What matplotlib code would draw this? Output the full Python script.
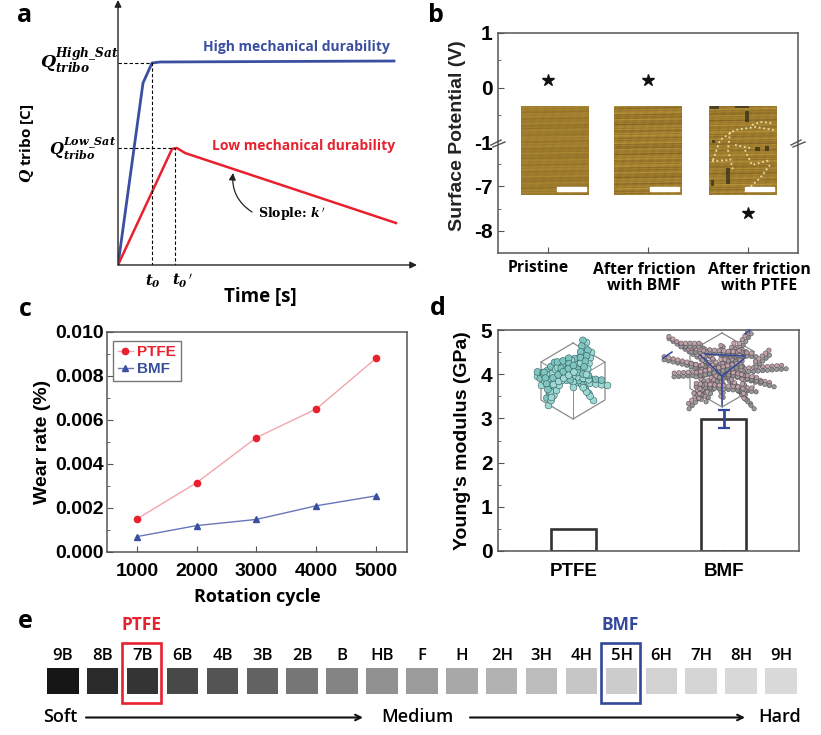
import numpy as np
import matplotlib
matplotlib.use('Agg')
import matplotlib.pyplot as plt
from matplotlib.patches import Rectangle

plt.rcParams['font.family'] = ['Liberation Sans', 'DejaVu Sans']
plt.rcParams['mathtext.fontset'] = 'dejavuserif'

W, H = 821, 735
RED = '#e8212e'
BLUE = '#3b4fa0'
NAVY = '#33479b'
FRAME = '#555555'

# panel a
high_t = [0, 25, 34, 42, 276]
high_q = [0, 182, 202, 203, 204]
low_t = [0, 54, 59, 67, 278]
low_q = [0, 116, 117, 112, 42]
t0_high = 34
t0_low = 57

# panel b
surface_labels = ['Pristine', 'After friction\nwith BMF', 'After friction\nwith PTFE']
surface_x = [1, 2, 3]
surface_v = [0.13, 0.13, -7.61]

# panel c
cycles = [1000, 2000, 3000, 4000, 5000]
wear_ptfe = [0.0015, 0.00315, 0.0052, 0.0065, 0.0088]
wear_bmf = [0.0007, 0.0012, 0.00148, 0.0021, 0.00255]

# panel d
modulus_names = ['PTFE', 'BMF']
modulus = [0.5, 2.98]
modulus_err = [0, 0.2]

# panel e
pencil = ['9B', '8B', '7B', '6B', '4B', '3B', '2B', 'B', 'HB', 'F', 'H',
          '2H', '3H', '4H', '5H', '6H', '7H', '8H', '9H']
pencil_grey = [22, 42, 52, 72, 84, 98, 118, 132, 145, 155, 168,
               178, 188, 198, 204, 210, 213, 216, 218]


def px_axes(left, top, right, bottom, **kw):
    return fig.add_axes([left / W, 1 - bottom / H, (right - left) / W, (bottom - top) / H], **kw)


def style_frame(ax):
    for s in ax.spines.values():
        s.set_color(FRAME)
        s.set_linewidth(1.1)
    ax.tick_params(which='major', direction='in', length=4, color=FRAME, labelsize=14, pad=4)
    ax.tick_params(which='minor', direction='in', length=2, color=FRAME)
    for t in ax.get_xticklabels() + ax.get_yticklabels():
        t.set_fontweight('bold')


fig = plt.figure(figsize=(W / 100, H / 100), dpi=100)

# a: sketch of charge against time
ax = px_axes(118, 2, 415, 265)
ax.set_xlim(0, 297)
ax.set_ylim(0, 263)
ax.axis('off')
ax.plot(high_t, high_q, color=BLUE, lw=2)
ax.plot(low_t, low_q, color=RED, lw=1.8)
ax.plot([0, t0_high, t0_high], [high_q[2], high_q[2], 0], color='k', lw=0.8, ls=(0, (3, 2)))
ax.plot([0, t0_low, t0_low], [low_q[2], low_q[2], 0], color='k', lw=0.8, ls=(0, (3, 2)))
ax.annotate('', xy=(0, 265), xytext=(0, 0), annotation_clip=False,
            arrowprops=dict(arrowstyle='-|>', color='#222222', lw=1, shrinkA=0, shrinkB=0))
ax.annotate('', xy=(299, 0), xytext=(0, 0), annotation_clip=False,
            arrowprops=dict(arrowstyle='-|>', color='#222222', lw=1, shrinkA=0, shrinkB=0))

# b: broken axis surface potential
ax_top = px_axes(498, 33, 798, 142)
ax_low = px_axes(498, 142, 798, 253)
ax_top.set_ylim(-1, 1)
ax_low.set_ylim(-8.5, -6)
for a in (ax_top, ax_low):
    a.set_xlim(0.5, 3.5)
    a.plot(surface_x, surface_v, '*', color='#111111', ms=9, clip_on=True)
ax_top.set_yticks([-1, 0, 1])
ax_top.set_yticks([-0.5, 0.5], minor=True)
ax_low.set_yticks([-8, -7])
ax_low.set_yticks([-7.5, -6.5], minor=True)
ax_top.set_xticks([])
ax_low.set_xticks(surface_x)
ax_low.set_xticklabels(['', '', ''])
style_frame(ax_top)
style_frame(ax_low)
ax_top.spines['bottom'].set_visible(False)
ax_low.spines['top'].set_visible(False)
ax_top.set_yticklabels(['-1', '0', '1'], fontweight='bold', fontsize=15)
ax_low.set_yticklabels(['-8', '-7'], fontweight='bold', fontsize=15)

# c: wear rate
ax = px_axes(107, 332, 407, 552)
ax.plot(cycles, wear_ptfe, '-o', color='#f2a6ac', lw=1, mfc=RED, mec=RED, ms=4.5, label='PTFE')
ax.plot(cycles, wear_bmf, '-^', color='#6a76b8', lw=1, mfc=BLUE, mec=BLUE, ms=4.5, label='BMF')
ax.set_xlim(500, 5520)
ax.set_ylim(0, 0.010)
ax.set_xticks(cycles)
ax.set_yticks([0, 0.002, 0.004, 0.006, 0.008, 0.010])
ax.set_yticklabels(['0.000', '0.002', '0.004', '0.006', '0.008', '0.010'])
ax.set_yticks(np.arange(0.001, 0.01, 0.002), minor=True)
style_frame(ax)
ax.tick_params(axis='x', pad=8)
ax.tick_params(axis='y', pad=2)
ax.set_ylabel('Wear rate (%)', fontsize=14, fontweight='bold', labelpad=3)
ax.set_xlabel('Rotation cycle', fontsize=13, fontweight='bold', family='Open Sans', labelpad=6)
leg = ax.legend(loc='upper left', bbox_to_anchor=(0.02, 0.96), borderaxespad=0,
                prop={'weight': 'bold', 'size': 11}, labelcolor=[RED, BLUE], fancybox=False,
                edgecolor='#777777', framealpha=1, handlelength=1.0, handletextpad=0.3,
                borderpad=0.3, labelspacing=0.2)
leg.get_frame().set_linewidth(1)

# d: modulus bars
ax = px_axes(498, 330, 799, 551)
ax.bar([0, 1], modulus, width=0.3, facecolor='white', edgecolor='#333333', lw=1.9, zorder=2)
ax.errorbar([1], [modulus[1]], yerr=[modulus_err[1]], color=NAVY, capsize=4, lw=2, capthick=1.6, zorder=3)
ax.set_xlim(-0.5, 1.5)
ax.set_ylim(0, 5)
ax.set_xticks([0, 1])
ax.set_xticklabels(modulus_names)
ax.set_yticks(range(6))
ax.set_yticks(np.arange(0.5, 5, 1), minor=True)
style_frame(ax)
ax.tick_params(axis='x', pad=9, labelsize=13.5)
for t in ax.get_yticklabels():
    t.set_fontsize(15)
ax.set_ylabel("Young's modulus (GPa)", fontsize=14, fontweight='bold', labelpad=7)

# overlay in picture pixels for labels, micrographs, molecules and the pencil scale
ov = fig.add_axes([0, 0, 1, 1], zorder=10)
ov.set_xlim(0, W)
ov.set_ylim(H, 0)
ov.axis('off')
ov.patch.set_alpha(0)

OPEN = ['Open Sans', 'DejaVu Sans']
for s, x, y in [('a', 25, 15), ('b', 436, 15), ('c', 25, 309), ('d', 438, 308), ('e', 25, 621)]:
    ov.text(x, y, s, fontsize=18, fontweight='bold', family=OPEN, ha='center', va='center')

# a labels
ov.text(296, 47, 'High mechanical durability', color=BLUE, fontsize=10, fontweight='bold', family=OPEN, ha='center', va='center')
ov.text(304, 146, 'Low mechanical durability', color=RED, fontsize=10, fontweight='bold', family=OPEN, ha='center', va='center')
ov.text(79, 61, r'$\mathbfit{Q}_{\mathbfit{tribo}}^{\mathbfit{High\_Sat}}$', fontsize=12.5, ha='center', va='center')
ov.text(83, 149, r'$\mathbfit{Q}_{\mathbfit{tribo}}^{\mathbfit{Low\_Sat}}$', fontsize=11.5, ha='center', va='center')
ov.text(153, 281, r'$\mathbfit{t}_{\mathbfit{0}}$', fontsize=10.5, ha='center', va='center')
ov.text(183, 281, r"$\mathbfit{t}_{\mathbfit{0}}\,'$", fontsize=10.5, ha='center', va='center')
ov.text(260, 297, 'Time [s]', fontsize=13.5, fontweight='bold', family=OPEN, ha='center', va='center')
ov.text(27, 143, r'$\mathbfit{Q}$ tribo [C]', fontsize=11, fontweight='bold', family=OPEN, rotation=90, ha='center', va='center')
ov.text(292, 214, r"Slople: $\mathbfit{k}\,'$", fontsize=9, fontweight='bold', family='DejaVu Serif', ha='center', va='center')
ov.annotate('', xy=(233, 173), xytext=(252, 212),
            arrowprops=dict(arrowstyle='-|>', color='#222222', lw=0.9, connectionstyle='arc3,rad=-0.3', shrinkA=0, shrinkB=0))

# b labels
ov.text(457, 136, 'Surface Potential (V)', fontsize=14, fontweight='bold', rotation=90, ha='center', va='center', color='#222222')
for name, x, y in zip(surface_labels, [538, 644, 759], [268, 278, 278]):
    ov.text(x, y, name, fontsize=11.3, fontweight='bold', family=OPEN, ha='center', va='center', linespacing=1.05)
for x in (498, 798):
    ov.plot([x - 7, x + 3], [145, 140], color=FRAME, lw=1)
    ov.plot([x - 5, x + 7], [147, 142], color=FRAME, lw=1)

# micrographs: gold scratched surface, drawn as texture
yy, xx = np.mgrid[0:89, 0:68]
for left, phase, amp in [(521, 0.0, 0.6), (614, 1.3, 1.0), (709, 2.6, 0.9)]:
    tex = (np.sin(yy * 1.9 + xx * 0.03 + phase) * 0.3 + np.sin(yy * 0.83 + xx * 0.018 + phase * 2) * 0.3
           + np.sin(yy * 3.1 - xx * 0.05) * 0.2 + np.sin(xx * 0.7 + yy * 0.2) * 0.1 + np.sin(yy * 0.23 + phase) * 0.1)
    img = np.zeros(tex.shape + (3,))
    img[..., 0] = (158 + 30 * amp * tex) / 255
    img[..., 1] = (124 + 28 * amp * tex) / 255
    img[..., 2] = (46 + 14 * amp * tex) / 255
    ov.imshow(np.clip(img, 0, 1), extent=(left, left + 68, 195, 106), aspect='auto', interpolation='bilinear', zorder=2)
    ov.add_patch(Rectangle((left + 36, 187), 29, 4, color='white', zorder=4))
ov.set_xlim(0, W)
ov.set_ylim(H, 0)

# worn patches on the third micrograph
for x, y, w, h in [(745, 111, 4, 11), (726, 168, 4, 16), (755, 147, 5, 4), (765, 146, 4, 5), (710, 106, 9, 3),
                   (735, 106, 14, 2), (712, 140, 3, 3), (711, 180, 3, 6)]:
    ov.add_patch(Rectangle((x, y), w, h, color='#3a3418', alpha=0.8, zorder=3, lw=0))
dash_paths = [[(713, 160), (720, 140), (735, 130), (755, 127), (774, 130)],
              [(730, 132), (728, 150), (733, 170)],
              [(745, 150), (752, 165), (770, 160)],
              [(712, 161), (730, 160)],
              [(752, 125), (760, 122), (772, 123)],
              [(770, 165), (760, 178), (745, 192)],
              [(735, 145), (750, 148)]]
for path in dash_paths:
    p = np.array(path)
    ov.plot(p[:, 0], p[:, 1], color='#eadfa8', lw=1.3, ls=(0, (1, 1.5)), zorder=3)


def hexagon(cx, cy, rx, ry):
    pts = [(cx, cy - ry), (cx + rx, cy - ry / 2), (cx + rx, cy + ry / 2), (cx, cy + ry),
           (cx - rx, cy + ry / 2), (cx - rx, cy - ry / 2), (cx, cy - ry)]
    p = np.array(pts)
    ov.plot(p[:, 0], p[:, 1], color='#8a8a8a', lw=0.9, zorder=3)
    for i in (1, 3, 5):
        ov.plot([cx, pts[i][0]], [cy, pts[i][1]], color='#8a8a8a', lw=0.7, zorder=3)


def beads(branches, size, faces, edge, step, wiggle):
    px, py, cs = [], [], []
    for (x0, y0), (x1, y1) in branches:
        n = int(np.hypot(x1 - x0, y1 - y0) / step) + 2
        for k, f in enumerate(np.linspace(0, 1, n)):
            off = wiggle * (-1) ** k
            px.append(x0 + (x1 - x0) * f + off * 0.6)
            py.append(y0 + (y1 - y0) * f + off)
            cs.append(faces[k % len(faces)])
    ov.scatter(px, py, s=size, c=cs, edgecolors=edge, linewidths=0.4, zorder=4)


hexagon(573, 381, 32, 38)
ptfe_branches = [((536, 374), (606, 383)), ((585, 340), (577, 380)), ((547, 403), (563, 373)),
                 ((592, 398), (580, 383)), ((540, 383), (556, 365)), ((556, 365), (582, 360)),
                 ((560, 370), (590, 378)), ((545, 372), (550, 395)), ((570, 358), (572, 385)),
                 ((552, 382), (575, 368)), ((590, 350), (585, 372))]
beads(ptfe_branches, 24, ['#9fd8d2', '#7fc4c0'], '#2f5f5c', 3, 2.5)

hexagon(722, 370, 32, 37)
bmf_branches = [((668, 337), (722, 372)), ((750, 332), (722, 372)), ((663, 358), (722, 372)), ((785, 367), (722, 372)),
                ((773, 385), (722, 372)), ((753, 407), (722, 372)), ((688, 407), (722, 372)), ((673, 375), (722, 372)),
                ((700, 345), (745, 395)), ((745, 350), (695, 395)), ((690, 365), (760, 380)), ((722, 345), (722, 398)),
                ((705, 400), (735, 345)), ((690, 350), (755, 355)), ((695, 385), (755, 390)), ((705, 350), (700, 400)),
                ((740, 350), (745, 400)), ((680, 345), (700, 345)), ((755, 365), (770, 352)), ((695, 375), (740, 365))]
beads(bmf_branches, 10, ['#9a9a9a', '#b99aa2', '#8f8f8f', '#c7a5a5'], '#55505a', 2.4, 1.8)
for (x0, y0), (x1, y1) in [((705, 354), (745, 356)), ((700, 355), (722, 376)), ((722, 376), (745, 358)),
                           ((722, 376), (722, 405)), ((663, 358), (672, 352)), ((745, 334), (750, 330))]:
    ov.plot([x0, x1], [y0, y1], color=NAVY, lw=1.1, zorder=5)

# e: pencil hardness scale
for i, (name, g) in enumerate(zip(pencil, pencil_grey)):
    x = 47 + i * 39.9
    ov.add_patch(Rectangle((x, 668), 31.5, 26, color=str(g / 255), lw=0, zorder=2))
    ov.text(x + 16, 656.5, name, fontsize=12, family=OPEN, fontweight='semibold', ha='center', va='center')
ov.add_patch(Rectangle((122, 643), 39, 60, fill=False, edgecolor=RED, lw=1.9, zorder=5))
ov.add_patch(Rectangle((600.5, 643), 39.5, 60, fill=False, edgecolor=NAVY, lw=1.9, zorder=5))
ov.text(141.5, 625, 'PTFE', color=RED, fontsize=12.5, fontweight='bold', family=OPEN, ha='center', va='center')
ov.text(620.5, 625, 'BMF', color=NAVY, fontsize=12.5, fontweight='bold', family=OPEN, ha='center', va='center')
for s, x in [('Soft', 60), ('Medium', 417), ('Hard', 780)]:
    ov.text(x, 717.5, s, fontsize=13, fontweight='semibold', family=OPEN, ha='center', va='center')
for x0, x1 in [(86, 363), (470, 745)]:
    ov.annotate('', xy=(x1, 717.5), xytext=(x0, 717.5),
                arrowprops=dict(arrowstyle='->', color='#111111', lw=1.5, shrinkA=0, shrinkB=0))

fig.savefig('out.png', dpi=100)
